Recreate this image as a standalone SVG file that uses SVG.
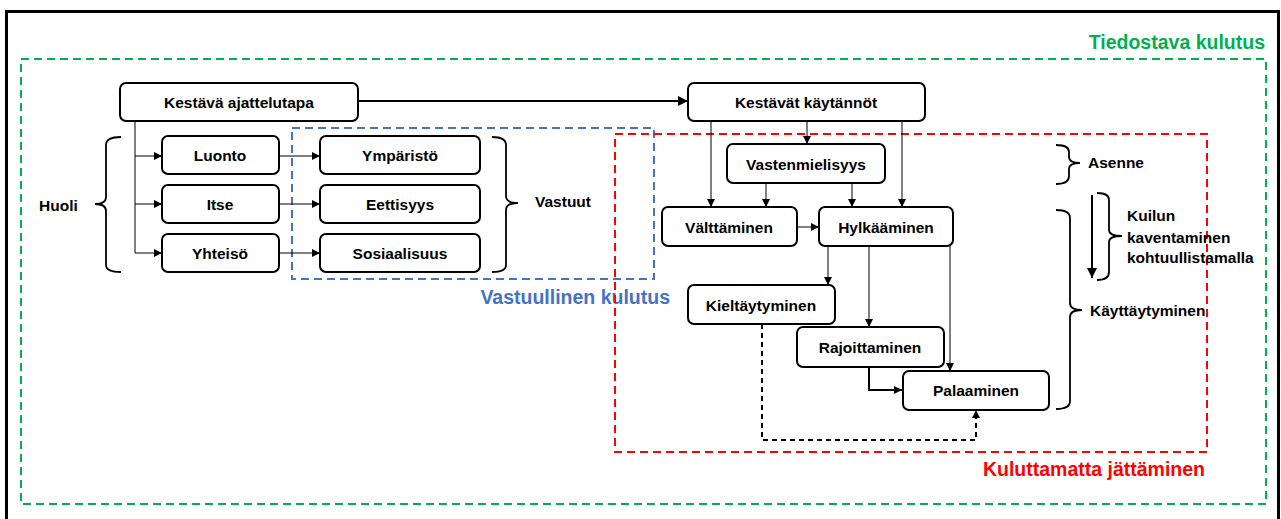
<svg xmlns="http://www.w3.org/2000/svg" width="1281" height="519" viewBox="0 0 1281 519">
<style>
.box{fill:#fff;stroke:#000;stroke-width:2}
.t{font-family:"Liberation Sans",Arial,sans-serif;font-weight:bold;font-size:15.5px;fill:#000;text-anchor:middle;dominant-baseline:central}
.lt{font-family:"Liberation Sans",Arial,sans-serif;font-weight:bold;font-size:15.5px;fill:#000;dominant-baseline:central}
.c{fill:none;stroke:#000;stroke-width:1}
.c2{fill:none;stroke:#000;stroke-width:2}
.br{fill:none;stroke:#000;stroke-width:1.8}
.grp{font-family:"Liberation Sans",Arial,sans-serif;font-weight:bold;font-size:19.5px}
</style>
<defs>
<marker id="a" viewBox="0 0 10 10" refX="10" refY="5" markerWidth="8" markerHeight="8" markerUnits="userSpaceOnUse" orient="auto"><path d="M0,0L10,5L0,10z" fill="#000"/></marker>
<marker id="ab" viewBox="0 0 10 10" refX="10" refY="5" markerWidth="10" markerHeight="10" markerUnits="userSpaceOnUse" orient="auto"><path d="M0,0L10,5L0,10z" fill="#000"/></marker>
</defs>
<rect width="1281" height="519" fill="#fff"/>
<rect x="6.5" y="11.5" width="1272" height="520" fill="none" stroke="#000" stroke-width="3"/>

<g id="regions">
<rect x="21" y="59" width="1245" height="445" fill="none" stroke="#00B050" stroke-width="2" stroke-dasharray="8,5"/>
<text class="grp" x="1265" y="49" fill="#00B050" text-anchor="end">Tiedostava kulutus</text>
<rect x="292" y="128" width="362" height="151" fill="none" stroke="#4472C4" stroke-width="2" stroke-dasharray="8,5"/>
<text class="grp" x="670" y="304" fill="#4472C4" text-anchor="end">Vastuullinen kulutus</text>
<rect x="615" y="134" width="592" height="318" fill="none" stroke="#FF0000" stroke-width="2" stroke-dasharray="8,5"/>
<text class="grp" x="1205" y="476" fill="#FF0000" text-anchor="end">Kuluttamatta jättäminen</text>
</g>

<g id="connectors">
<line class="c2" x1="358" y1="101" x2="688" y2="101" marker-end="url(#ab)"/>
<path class="c" d="M135,119V253"/>
<line class="c" x1="135" y1="156" x2="162" y2="156" marker-end="url(#a)"/>
<line class="c" x1="135" y1="204" x2="162" y2="204" marker-end="url(#a)"/>
<line class="c" x1="135" y1="253" x2="162" y2="253" marker-end="url(#a)"/>
<line class="c" x1="279" y1="156" x2="320" y2="156" marker-end="url(#a)"/>
<line class="c" x1="279" y1="204" x2="320" y2="204" marker-end="url(#a)"/>
<line class="c" x1="279" y1="253" x2="320" y2="253" marker-end="url(#a)"/>
<line class="c" x1="711" y1="119" x2="711" y2="207" marker-end="url(#a)"/>
<line class="c" x1="807" y1="119" x2="807" y2="144" marker-end="url(#a)"/>
<line class="c" x1="902" y1="119" x2="902" y2="207" marker-end="url(#a)"/>
<line class="c" x1="766" y1="183" x2="766" y2="207" marker-end="url(#a)"/>
<line class="c" x1="852" y1="183" x2="852" y2="207" marker-end="url(#a)"/>
<line class="c" x1="797" y1="227" x2="819" y2="227" marker-end="url(#a)"/>
<line class="c" x1="828" y1="246" x2="828" y2="285" marker-end="url(#a)"/>
<line class="c" x1="869" y1="246" x2="869" y2="327" marker-end="url(#a)"/>
<line class="c" x1="950" y1="246" x2="950" y2="371" marker-end="url(#a)"/>
<path class="c2" d="M869,367V390H902" marker-end="url(#a)"/>
<path class="c2" d="M762,324V440H976V410" stroke-dasharray="5,4" marker-end="url(#a)"/>
<line class="c2" x1="1092" y1="195" x2="1092" y2="278" marker-end="url(#ab)"/>
</g>

<g id="braces">
<path class="br" d="M121,137Q106,137 106,145V197Q106,204 95,204Q106,204 106,211V265Q106,272 121,272"/>
<path class="br" d="M492,137Q506,137 506,145V196Q506,203 518,203Q506,203 506,210V265Q506,272 492,272"/>
<path class="br" d="M1056,145Q1069,145 1069,152V157Q1069,163 1080,163Q1069,163 1069,169V176Q1069,184 1056,184"/>
<path class="br" d="M1056,210Q1070,210 1070,218V303Q1070,310 1082,310Q1070,310 1070,317V401Q1070,409 1056,409"/>
<path class="br" d="M1097,193Q1109,193 1109,200V230Q1109,236 1122,236Q1109,236 1109,242V272Q1109,280 1097,280"/>
</g>

<g id="side-labels">
<text class="lt" x="39" y="205">Huoli</text>
<text class="lt" x="535" y="201">Vastuut</text>
<text class="lt" x="1088" y="162">Asenne</text>
<text class="lt" x="1127" y="215">Kuilun</text>
<text class="lt" x="1127" y="237">kaventaminen</text>
<text class="lt" x="1127" y="257">kohtuullistamalla</text>
<text class="lt" x="1090" y="310">Käyttäytyminen</text>
</g>

<g id="n-kestava-ajattelutapa"><rect class="box" x="120" y="83" width="238" height="38" rx="6"/><text class="t" x="239" y="102">Kestävä ajattelutapa</text></g>
<g id="n-kestavat-kaytannot"><rect class="box" x="688" y="83" width="237" height="38" rx="6"/><text class="t" x="806" y="102">Kestävät käytännöt</text></g>
<g id="n-luonto"><rect class="box" x="162" y="136" width="117" height="38" rx="6"/><text class="t" x="220" y="155">Luonto</text></g>
<g id="n-itse"><rect class="box" x="162" y="185" width="117" height="38" rx="6"/><text class="t" x="220" y="204">Itse</text></g>
<g id="n-yhteiso"><rect class="box" x="162" y="234" width="117" height="38" rx="6"/><text class="t" x="220" y="253">Yhteisö</text></g>
<g id="n-ymparisto"><rect class="box" x="320" y="136" width="160" height="38" rx="6"/><text class="t" x="400" y="155">Ympäristö</text></g>
<g id="n-eettisyys"><rect class="box" x="320" y="185" width="160" height="38" rx="6"/><text class="t" x="400" y="204">Eettisyys</text></g>
<g id="n-sosiaalisuus"><rect class="box" x="320" y="234" width="160" height="38" rx="6"/><text class="t" x="400" y="253">Sosiaalisuus</text></g>
<g id="n-vastenmielisyys"><rect class="box" x="727" y="144" width="158" height="39" rx="6"/><text class="t" x="806" y="164">Vastenmielisyys</text></g>
<g id="n-valttaminen"><rect class="box" x="662" y="207" width="135" height="39" rx="6"/><text class="t" x="729" y="227">Välttäminen</text></g>
<g id="n-hylkaaminen"><rect class="box" x="819" y="207" width="134" height="39" rx="6"/><text class="t" x="886" y="227">Hylkääminen</text></g>
<g id="n-kieltaytyminen"><rect class="box" x="688" y="285" width="147" height="39" rx="6"/><text class="t" x="761" y="305">Kieltäytyminen</text></g>
<g id="n-rajoittaminen"><rect class="box" x="797" y="327" width="147" height="40" rx="6"/><text class="t" x="870" y="347">Rajoittaminen</text></g>
<g id="n-palaaminen"><rect class="box" x="903" y="371" width="146" height="39" rx="6"/><text class="t" x="976" y="390">Palaaminen</text></g>
</svg>
